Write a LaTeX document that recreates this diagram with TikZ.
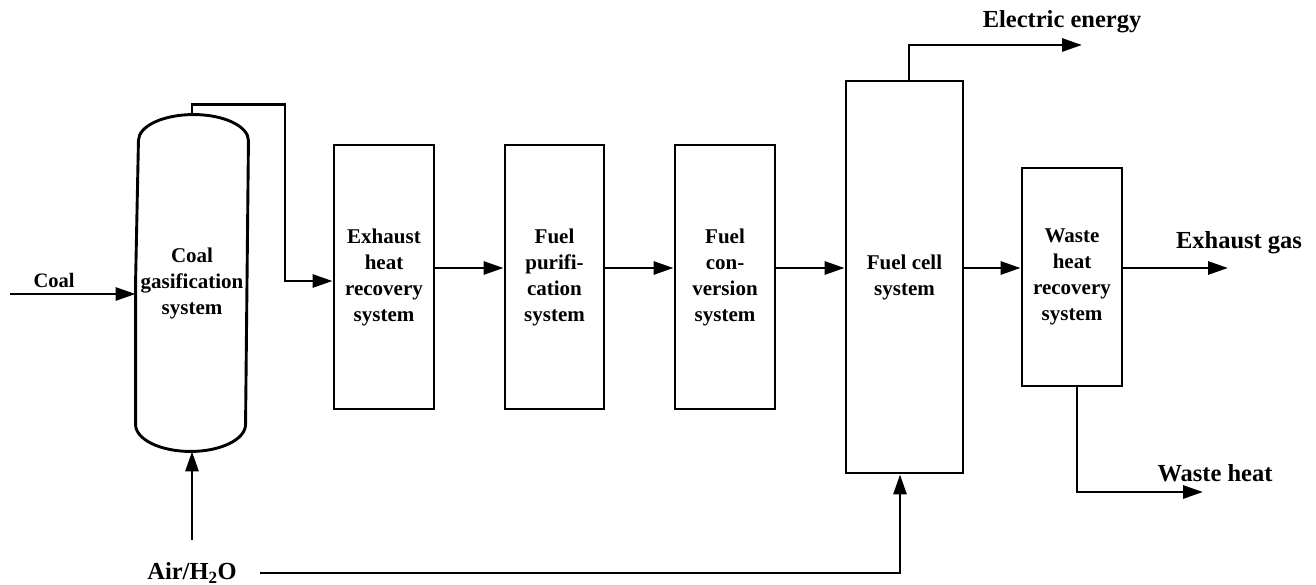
\documentclass[tikz,border=0pt]{standalone}
\usepackage{fontspec}
\setmainfont{Liberation Serif}
\usetikzlibrary{arrows.meta,calc}
\begin{document}
\begin{tikzpicture}[x=1pt,y=1pt,
  line width=2.9pt,
  arr/.style={-{Triangle[length=20pt,width=13pt]}},
  box/.style={draw,line width=2.9pt,inner sep=0pt,align=center,font=\bfseries\fontsize{21}{26}\selectfont},
  lbl/.style={inner sep=0pt,font=\bfseries\fontsize{24.5}{28}\selectfont}
]
\useasboundingbox (0,0) rectangle (1316,-585);
% gasifier
\node[box,draw=none,minimum width=110pt,minimum height=334pt] (gas) at (192,-283) {\raisebox{3pt}{\begin{tabular}{@{}c@{}}Coal\\gasification\\system\end{tabular}}};
\draw[line join=round] (gas.west) -- ([yshift=27pt]gas.south west)
  arc[start angle=180,end angle=360,x radius=55pt,y radius=27pt]
  -- ([yshift=-26pt]gas.north east)
  arc[start angle=0,end angle=180,x radius=55pt,y radius=26pt] -- cycle;
% boxes
\node[box,minimum width=100pt,minimum height=264pt] (exh) at (384,-277) {Exhaust\\heat\\recovery\\system};
\node[box,minimum width=99pt,minimum height=264pt] (pur) at (554.5,-277) {Fuel\\purifi-\\cation\\system};
\node[box,minimum width=100pt,minimum height=264pt] (con) at (725,-277) {Fuel\\con-\\version\\system};
\node[box,minimum width=117pt,minimum height=392pt] (fc) at (904.5,-277) {Fuel cell\\system};
\node[box,minimum width=100pt,minimum height=218pt] (wst) at (1072,-277) {Waste\\heat\\recovery\\system};
% labels
\node[lbl,font=\bfseries\fontsize{20.5}{24}\selectfont] (lcoal) at (54,-280) {Coal};
\node[lbl] (lair) at (192,-573) {Air/H\textsubscript{2}O};
\node[lbl] (lelec) at (1062,-22) {Electric energy};
\node[lbl] (lexh) at (1239,-243) {Exhaust gas};
\node[lbl] (lwh) at (1215,-473) {Waste heat};
% free ends
\coordinate (coalin) at (10,-294);
\coordinate (airup) at (192,-540);
\coordinate (airline) at (260,-573);
\coordinate (elec) at (1082,-45);
\coordinate (exgas) at (1228,-268);
\coordinate (wh) at (1203,-492);
% connectors
\draw[arr] (coalin) -- (gas.west |- coalin);
\draw[arr] (gas.north) -- ++(0,10) -- ++(93,0) |- ([yshift=-4pt]exh.west);
\draw[arr] ([yshift=9pt]exh.east) -- ([yshift=9pt]pur.west);
\draw[arr] ([yshift=9pt]pur.east) -- ([yshift=9pt]con.west);
\draw[arr] ([yshift=9pt]con.east) -- ([yshift=9pt]fc.west);
\draw[arr] ([yshift=9pt]fc.east) -- ([yshift=9pt]wst.west);
\draw[arr] ([yshift=9pt]wst.east) -- (exgas);
\draw[arr] ([xshift=4.5pt]fc.north) |- (elec);
\draw[arr] ([xshift=5pt]wst.south) |- (wh);
\draw[arr] (airup) -- (gas.south);
\draw[arr] (airline) -| ([xshift=-4.5pt]fc.south);
\end{tikzpicture}
\end{document}
